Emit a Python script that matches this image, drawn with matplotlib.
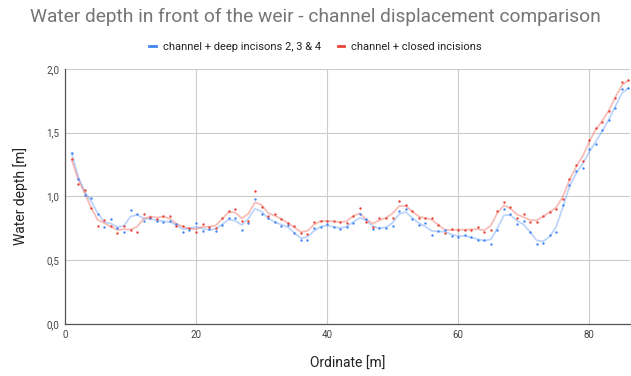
import numpy as np
import matplotlib; matplotlib.use("Agg")
import matplotlib.pyplot as plt
from matplotlib.lines import Line2D

plt.rcParams["font.family"] = ["Roboto", "DejaVu Sans"]

# ---------- data ----------
ordinate = list(range(1, 87))
deep_incisions = [1.34, 1.14, 1.01, 0.99, 0.86, 0.76, 0.82, 0.75, 0.72, 0.895,
                  0.86, 0.81, 0.835, 0.81, 0.80, 0.81, 0.785, 0.725, 0.74, 0.79,
                  0.73, 0.745, 0.73, 0.78, 0.835, 0.83, 0.74, 0.795, 0.98, 0.86,
                  0.83, 0.80, 0.77, 0.78, 0.71, 0.66, 0.66, 0.75, 0.76, 0.785,
                  0.76, 0.745, 0.76, 0.79, 0.86, 0.82, 0.745, 0.755, 0.755, 0.765,
                  0.89, 0.90, 0.825, 0.775, 0.79, 0.70, 0.73, 0.74, 0.69, 0.685,
                  0.70, 0.68, 0.66, 0.66, 0.63, 0.735, 0.905, 0.865, 0.785, 0.805,
                  0.725, 0.63, 0.635, 0.695, 0.72, 0.93, 1.09, 1.20, 1.225, 1.375,
                  1.41, 1.52, 1.60, 1.69, 1.845, 1.85]
closed_incisions = [1.29, 1.10, 1.05, 0.91, 0.77, 0.815, 0.765, 0.71, 0.765, 0.735,
                    0.725, 0.865, 0.84, 0.825, 0.85, 0.845, 0.765, 0.77, 0.75, 0.72,
                    0.785, 0.76, 0.75, 0.83, 0.89, 0.90, 0.805, 0.805, 1.045, 0.92,
                    0.85, 0.86, 0.825, 0.79, 0.765, 0.71, 0.705, 0.80, 0.81, 0.81,
                    0.805, 0.80, 0.79, 0.845, 0.913, 0.80, 0.76, 0.83, 0.835, 0.835,
                    0.965, 0.93, 0.885, 0.83, 0.83, 0.83, 0.78, 0.715, 0.745, 0.74,
                    0.74, 0.735, 0.76, 0.72, 0.74, 0.89, 0.96, 0.915, 0.83, 0.86,
                    0.80, 0.80, 0.85, 0.88, 0.90, 0.98, 1.14, 1.25, 1.28, 1.445,
                    1.535, 1.58, 1.67, 1.77, 1.90, 1.91]
series = [("channel + deep incisons 2, 3 & 4", deep_incisions, "#4285F4"),
          ("channel + closed incisions", closed_incisions, "#EA4335")]

def smooth(v):
    v = np.asarray(v, float); s = v.copy()
    s[1:-1] = 0.25*v[:-2] + 0.5*v[1:-1] + 0.25*v[2:]
    return s

fig = plt.figure(figsize=(6.31, 3.76), dpi=100)
ax = fig.add_axes([0.103, 0.138, 0.895, 0.679])
x = np.array(ordinate)
for name, vals, col in series:
    ax.plot(x, smooth(vals), color=col, alpha=0.35, lw=1.3, zorder=2)
    ax.scatter(x, vals, color=col, s=3, marker="o", lw=0, zorder=3)

ax.set_xlim(0, 86.2); ax.set_ylim(0, 2.0)
ax.set_xticks([0, 20, 40, 60, 80]); ax.set_yticks([0, 0.5, 1.0, 1.5, 2.0])
ax.set_yticklabels(["0,0", "0,5", "1,0", "1,5", "2,0"])
ax.grid(color="#cccccc", lw=0.8); ax.set_axisbelow(True)
ax.tick_params(length=0, labelsize=7, colors="#444444", pad=4)
for sp in ["top", "right"]: ax.spines[sp].set_visible(False)
for sp in ["left", "bottom"]: ax.spines[sp].set_color("#555555"); ax.spines[sp].set_linewidth(0.9)
ax.set_xlabel("Ordinate [m]", fontsize=10, color="#222222", labelpad=12)
ax.set_ylabel("Water depth [m]", fontsize=10, color="#222222", labelpad=13)

fig.text(0.5, 0.955, "Water depth in front of the weir - channel displacement comparison",
         ha="center", va="center", fontsize=13.8, color="#757575")
handles = [Line2D([], [], color=c, lw=2) for _, _, c in series]
fig.legend(handles, [n for n, _, _ in series], loc="center", bbox_to_anchor=(0.5, 0.875),
           ncol=2, frameon=False, fontsize=8, handlelength=0.6, handletextpad=0.6,
           columnspacing=1.5, labelcolor="#222222")
fig.savefig("out.png", dpi=100)
